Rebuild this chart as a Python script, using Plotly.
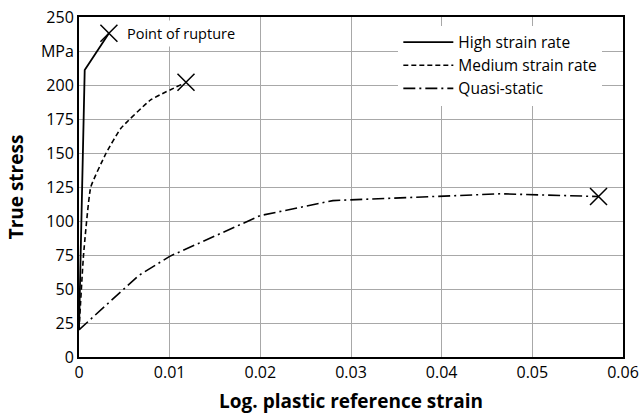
import plotly.graph_objects as go

high_x = [0.0, 0.00063, 0.0033]
high_y = [20, 211, 238]
med_x = [0.0, 0.0005, 0.0013, 0.003, 0.0046, 0.0079, 0.0115]
med_y = [20, 75, 125, 150, 168, 189, 201]
qs_x = [0.0, 0.0066, 0.01, 0.02, 0.028, 0.04, 0.0465, 0.0573]
qs_y = [20, 60, 74, 104, 115, 118, 120, 118]
rupture_x = [0.0033, 0.0118, 0.0573]
rupture_y = [238, 202, 118]
y_ticks = [0, 25, 50, 75, 100, 125, 150, 175, 200, 225, 250]
y_ticklabels = ["0", "25", "50", "75", "100", "125", "150", "175", "200", "MPa", "250"]
x_ticks = [0, 0.01, 0.02, 0.03, 0.04, 0.05, 0.06]
x_ticklabels = ["0", "0.01", "0.02", "0.03", "0.04", "0.05", "0.06"]

FONT = "Open Sans, Noto Sans, sans-serif"

fig = go.Figure()
fig.add_trace(go.Scatter(x=high_x, y=high_y, mode="lines", name="High strain rate",
                         line=dict(color="black", width=1.8)))
fig.add_trace(go.Scatter(x=med_x, y=med_y, mode="lines", name="Medium strain rate",
                         line=dict(color="black", width=1.6, dash="5px,3px", shape="spline", smoothing=0.4)))
fig.add_trace(go.Scatter(x=qs_x, y=qs_y, mode="lines", name="Quasi-static",
                         line=dict(color="black", width=1.6, dash="12px,4px,2px,4px")))
fig.add_trace(go.Scatter(x=rupture_x, y=rupture_y, mode="markers", showlegend=False,
                         marker=dict(symbol="x-thin", size=17, line=dict(color="black", width=1.5))))

fig.add_annotation(x=0.0048, y=238, xref="x", yref="y", text="Point of rupture",
                   showarrow=False, xanchor="left", yanchor="middle",
                   bgcolor="white", font=dict(family=FONT, size=14.5, color="black"),
                   borderpad=3)

fig.update_layout(
    width=640, height=414,
    margin=dict(l=79, r=17, t=17, b=57),
    plot_bgcolor="white", paper_bgcolor="white",
    font=dict(family=FONT, size=16, color="black"),
    legend=dict(x=0.587, y=0.975, xanchor="left", yanchor="top",
                bgcolor="white", borderwidth=0, itemwidth=50,
                font=dict(family=FONT, size=15.5, color="black"),
                tracegroupgap=0),
    xaxis=dict(range=[0, 0.06], tickvals=x_ticks, ticktext=x_ticklabels,
               showgrid=True, gridcolor="#a8a8a8", gridwidth=1,
               showline=True, linecolor="black", linewidth=2, mirror=True,
               zeroline=False, ticks="", automargin=False,
               tickfont=dict(size=16),
               title=dict(text="<b>Log. plastic reference strain</b>", font=dict(size=19), standoff=14)),
    yaxis=dict(range=[0, 250], tickvals=y_ticks, ticktext=y_ticklabels,
               showgrid=True, gridcolor="#a8a8a8", gridwidth=1,
               showline=True, linecolor="black", linewidth=2, mirror=True,
               zeroline=False, ticks="", automargin=False,
               tickfont=dict(size=16),
               title=dict(text="<b>True stress</b>", font=dict(size=19), standoff=12)),
)

fig.write_html("out.html", config={"displayModeBar": False},
               post_script="document.body.style.margin='0';document.body.style.overflow='hidden';")
